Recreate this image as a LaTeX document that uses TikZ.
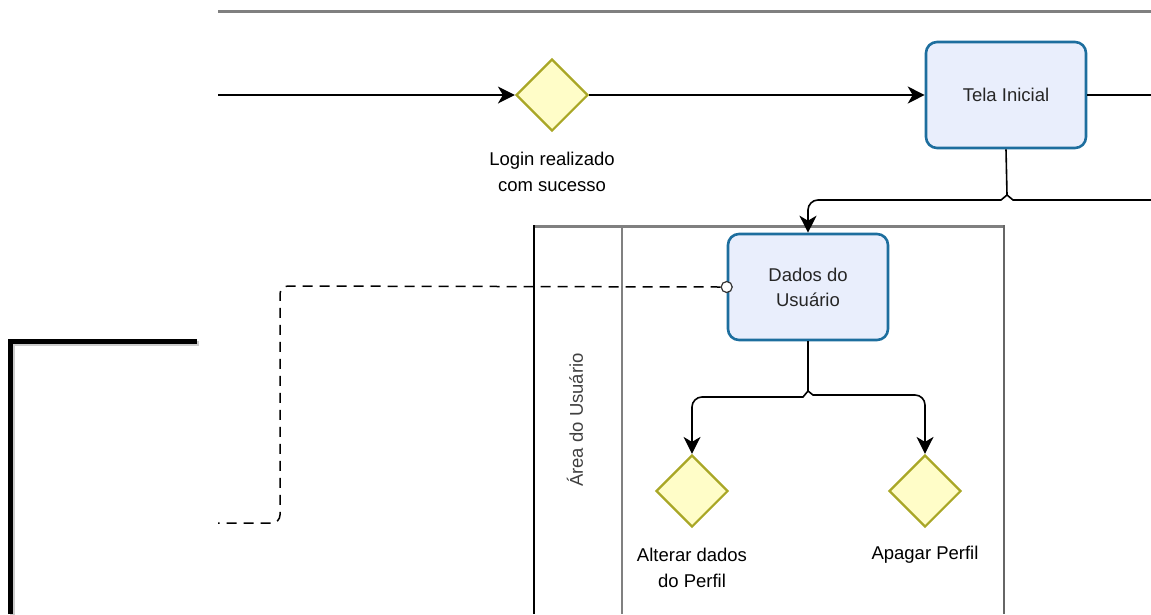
\documentclass[tikz,border=0pt]{standalone}
\usepackage{fontspec}
\setmainfont{Liberation Sans}
\usetikzlibrary{shapes.geometric,arrows.meta}
\definecolor{gwfill}{HTML}{FFFDC8}
\definecolor{gwline}{HTML}{A9A726}
\definecolor{tkfill}{HTML}{E9EEFC}
\definecolor{tkline}{HTML}{1D6E9E}
\definecolor{lanegray}{HTML}{808080}
\tikzset{
  gateway/.style={diamond, draw=gwline, fill=gwfill, line width=2.2pt, minimum width=72pt, minimum height=72pt, inner sep=0pt},
  task/.style={rectangle, rounded corners=11pt, draw=tkline, fill=tkfill, line width=2.6pt, minimum width=160pt, minimum height=106pt, align=center, font=\fontsize{18.5}{25}\selectfont, text=black!85},
  lbl/.style={align=center, font=\fontsize{18.5}{26}\selectfont, inner sep=0pt},
  flow/.style={line width=1.6pt, black, -{Stealth[length=17pt,width=17pt,inset=5pt]}},
  plain/.style={line width=1.6pt, black},
  assoc/.style={line width=1.5pt, black, dash pattern=on 10pt off 7pt},
}
\begin{document}
\begin{tikzpicture}[x=1pt,y=-1pt]
\useasboundingbox (0,0) rectangle (1151,614);
% top pool line
\draw[lanegray, line width=3pt] (218,11) -- (1151,11);
% thick black L
\draw[black!20, line width=5pt] (12,616) -- (12,343) -- (199,343);
\draw[black, line width=5pt] (10,614) -- (10,341) -- (197,341);
% lane
\draw[lanegray, line width=3pt] (534,226) -- (1004,226);
\draw[black, line width=1.6pt] (534,225) -- (534,614);
\draw[lanegray, line width=2.4pt] (622,226) -- (622,614);
\draw[black!60, line width=2pt] (1004,225) -- (1004,614);
\node[rotate=90, font=\fontsize{18.5}{22}\selectfont, text=black!75] (lanelbl) at (575,420) {Área do Usuário};
% nodes
\coordinate (start) at (218,95);
\node[gateway] (g1) at (552,95) {};
\node[lbl] (g1l) at (552,172) {Login realizado\\com sucesso};
\node[task] (tela) at (1006,95) {Tela Inicial};
\node[task] (dados) at (808,287) {Dados do\\Usuário};
\node[gateway] (g2) at (692,491) {};
\node[lbl] (g2l) at (692,568) {Alterar dados\\do Perfil};
\node[gateway] (g3) at (925,491) {};
\node[lbl] (g3l) at (925,555) {Apagar Perfil};
\coordinate (outA) at (1151,95);
\coordinate (outB) at (1151,200);
\coordinate (hopA) at (1007,195);
\coordinate (hopB) at (808,391);
\coordinate (assocEnd) at (218,523);
% flows
\draw[flow] (start) -- (g1.west);
\draw[flow] (g1.east) -- (tela.west);
\draw[plain] (tela.east) -- (outA);
\draw[plain] (outB) -- (1013,200) -- (hopA);
\draw[flow] (tela.south) -- (hopA) -- (1001,200) [rounded corners=10pt] -| (dados.north);
\draw[plain] (dados.south) -- (hopB);
\draw[flow] (hopB) -- (803,397) [rounded corners=10pt] -| (g2.north);
\draw[flow] (hopB) -- (813,395) [rounded corners=10pt] -| (g3.north);
% association
\node[circle, draw=black!80, fill=white, line width=1.2pt, minimum size=11pt, inner sep=0pt] (ac) at (dados.west) {};
\draw[assoc, rounded corners=8pt] (ac.west) -- (280,286) -- (280,523) -- (assocEnd);
\end{tikzpicture}
\end{document}
